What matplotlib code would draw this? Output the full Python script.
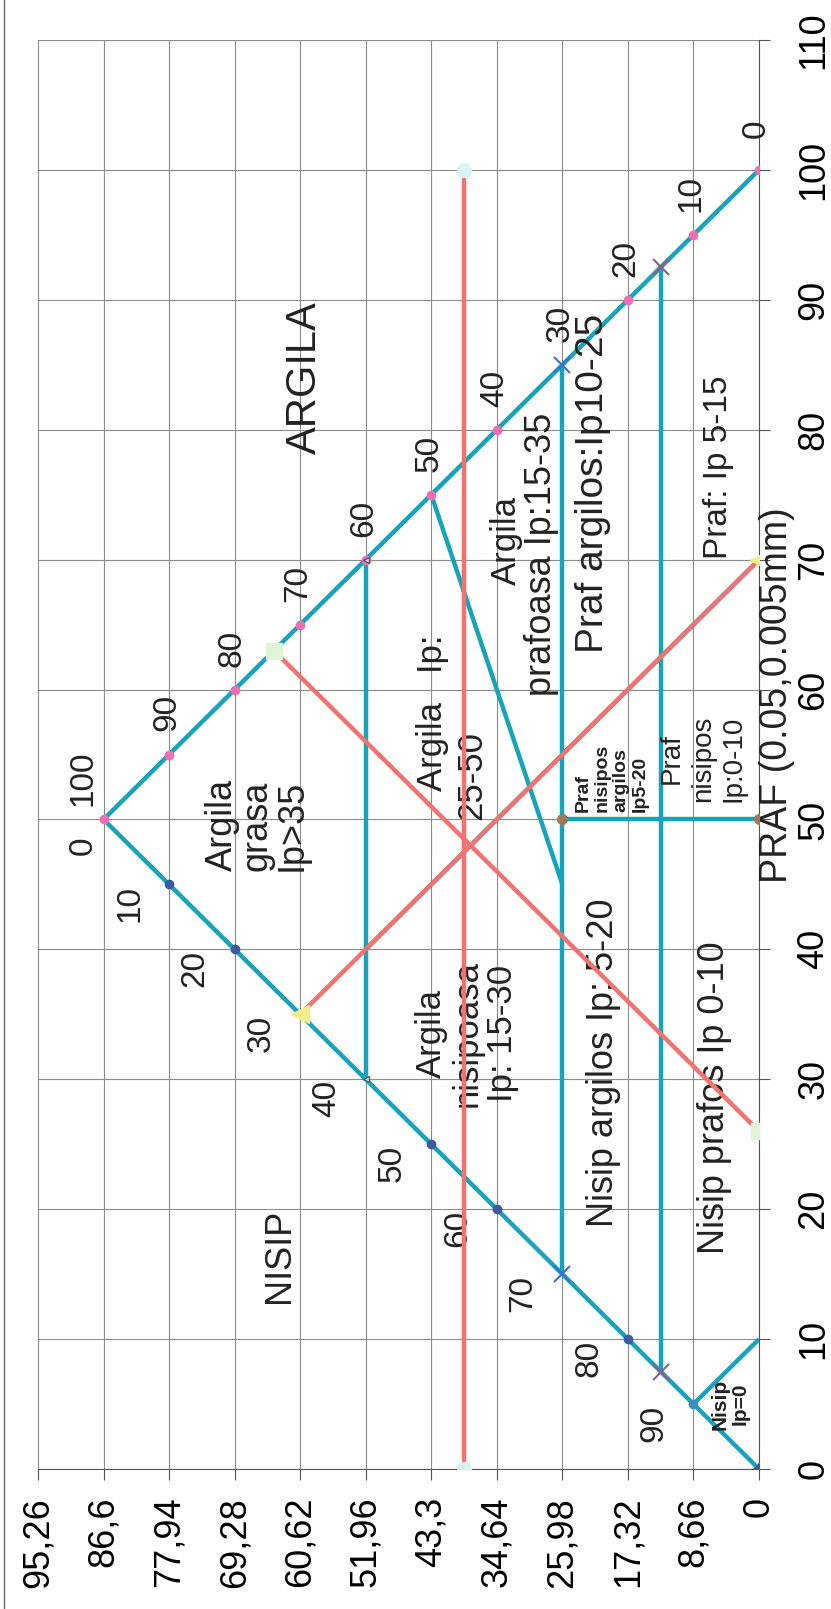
import matplotlib
matplotlib.use("Agg")
import matplotlib.pyplot as plt
from matplotlib.lines import Line2D

plt.rcParams["font.family"] = ["Liberation Sans", "DejaVu Sans"]

TEAL = "#17a3ba"
RED = "#f2726f"

# Values in the chart's own coordinates (x: 0..110, y: 0..95.26).
# The scan shows the chart turned 90 degrees: x runs upwards, y runs to the left.
x_ticks = [0, 10, 20, 30, 40, 50, 60, 70, 80, 90, 100, 110]
y_ticks = [0, 8.66, 17.32, 25.98, 34.64, 43.3, 51.96, 60.62, 69.28, 77.94, 86.6, 95.26]
y_tick_labels = ["0", "8,66", "17,32", "25,98", "34,64", "43,3", "51,96",
                 "60,62", "69,28", "77,94", "86,6", "95,26"]

# triangle sides
nisip_side_x = [0, 50]
nisip_side_y = [0, 86.6]
argila_side_x = [50, 100]
argila_side_y = [86.6, 0]

# teal class boundaries
lim60_x = [30, 70]
lim60_y = [51.96, 51.96]
lim30_x = [15, 85]
lim30_y = [25.98, 25.98]
lim15_x = [7.5, 92.5]
lim15_y = [12.99, 12.99]
lim_diag_x = [75, 45]
lim_diag_y = [43.3, 25.98]
lim_praf_x = [50, 50]
lim_praf_y = [25.98, 0]
lim_nisip_x = [5, 10]
lim_nisip_y = [8.66, 0]
lim_teal_x = [40, 70]
lim_teal_y = [51.96, 0]

# red guide lines
red_h_x = [0, 100]
red_h_y = [38.97, 38.97]
red_d1_x = [35, 70]
red_d1_y = [60.62, 0]
red_d2_x = [63, 26]
red_d2_y = [64.1, 0]

# markers
dark_x = [45, 40, 25, 20, 10]
dark_y = [77.94, 69.28, 43.3, 34.64, 17.32]
pink_x = [50, 55, 60, 65, 70, 75, 80, 90, 95, 100]
pink_y = [86.6, 77.94, 69.28, 60.62, 51.96, 43.3, 34.64, 17.32, 8.66, 0]
xblue_x = [15, 85]
xblue_y = [25.98, 25.98]
xpurple_x = [7.5, 92.5]
xpurple_y = [12.99, 12.99]
yellow_x = [35, 70]
yellow_y = [60.62, 0]
small_tri_x = [30, 70]
small_tri_y = [51.96, 51.96]
green_x = [63, 26]
green_y = [64.1, 0]
cyan_x = [0, 100]
cyan_y = [38.97, 38.97]
brown_x = [50, 50]
brown_y = [25.98, 0]

left_side_labels = [0, 10, 20, 30, 40, 50, 60, 70, 80, 90]
right_side_labels = [100, 90, 80, 70, 60, 50, 40, 30, 20, 10, 0]

fig = plt.figure(figsize=(8.31, 16.09), dpi=100)
ax = fig.add_axes([38 / 831, 1 - 1469 / 1609, (759 - 38) / 831, (1469 - 40) / 1609])


def draw(xs, ys, **kw):
    # turned chart: original y on the horizontal axis, original x on the vertical
    return ax.plot(ys, xs, **kw)


def label(x, y, s, size, **kw):
    kw.setdefault("ha", "center")
    kw.setdefault("va", "center")
    ax.text(y, x, s, fontsize=size, rotation=90, color="#222222", **kw)


ax.set_xlim(95.26, 0)
ax.set_ylim(0, 110)
ax.set_xticks(y_ticks)
ax.set_xticklabels(y_tick_labels, rotation=90, fontsize=26)
ax.yaxis.tick_right()
ax.set_yticks(x_ticks)
ax.set_yticklabels([str(v) for v in x_ticks], rotation=90, fontsize=26, va="center")
ax.tick_params(axis="x", direction="out", length=8, width=0.8, color="#555555", pad=12)
ax.tick_params(axis="y", direction="out", length=8, width=0.8, color="#555555", pad=19)
ax.grid(True, color="#8c8c8c", lw=0.8)
ax.set_axisbelow(True)
for s in ["top", "left"]:
    ax.spines[s].set_visible(False)
for s in ["bottom", "right"]:
    ax.spines[s].set_color("#555555")

# lines
lw = 3.2
for xs, ys in [(nisip_side_x, nisip_side_y), (argila_side_x, argila_side_y),
               (lim60_x, lim60_y), (lim30_x, lim30_y), (lim15_x, lim15_y),
               (lim_diag_x, lim_diag_y), (lim_praf_x, lim_praf_y),
               (lim_nisip_x, lim_nisip_y), (lim_teal_x, lim_teal_y)]:
    draw(xs, ys, color=TEAL, lw=lw, solid_capstyle="butt", zorder=3)
for xs, ys in [(red_h_x, red_h_y), (red_d1_x, red_d1_y), (red_d2_x, red_d2_y)]:
    draw(xs, ys, color=RED, lw=lw, solid_capstyle="butt", zorder=4)

# markers
draw(dark_x, dark_y, ls="none", marker="o", ms=6, color="#3a5ba0", zorder=5)
draw([0], [0], ls="none", marker="D", ms=6, color="#3a5ba0", zorder=5)
draw(pink_x, pink_y, ls="none", marker="o", ms=6, color="#f06eb4", zorder=5)
draw(xblue_x, xblue_y, ls="none", marker="x", ms=11, mew=1.5, color="#3f6fd0", zorder=6)
draw(xpurple_x, xpurple_y, ls="none", marker="x", ms=11, mew=1.5, color="#8b5e8b", zorder=6)
draw(yellow_x, yellow_y, ls="none", marker="<", ms=13, color="#f3f08c", zorder=6)
draw(small_tri_x, small_tri_y, ls="none", marker="<", ms=5, mfc="#f3f08c", mec="#3a5ba0", zorder=6)
draw(green_x, green_y, ls="none", marker="s", ms=12, color="#e0f5d5", zorder=6)
draw(cyan_x, cyan_y, ls="none", marker="o", ms=10, color="#d8f4f4", zorder=6)
draw(brown_x, brown_y, ls="none", marker="o", ms=7, color="#9b7b5c", zorder=6)
draw([5], [8.66], ls="none", marker="o", ms=6, color="#3a8fc0", zorder=6)

# side numbers
for k in left_side_labels:
    px, py = 50 - k / 2, 86.6 - 0.866 * k
    if k == 0:
        label(px - 2, py + 2.7, str(k), 24)
    else:
        label(px - 1.5, py + 5.2, str(k), 24)
for k in right_side_labels:
    px, py = 100 - k / 2, 0.866 * k
    if k == 100:
        label(px + 3.2, py + 2.7, str(k), 24)
    else:
        label(px + 3.2, py + 0.3, str(k), 24)

# region names
label(84.0, 60.0, "ARGILA", 30)
label(16.4, 63.3, "NISIP", 26)
label(46.0, 66.3, "Argila\ngrasa\nIp>35", 26, va="bottom", multialignment="left", linespacing=1.0)
label(58.2, 43.2, "Argila   Ip:", 25)
label(53.4, 38.0, "25-50", 25)
label(71.5, 33.4, "Argila", 25)
label(70.4, 28.8, "prafoasa Ip:15-35", 26)
label(75.9, 21.9, "Praf argilos:Ip10-25", 28)
label(77.1, 5.4, "Praf: Ip 5-15", 24)
label(33.5, 38.6, "Argila\nnisipoasa\nIp: 15-30", 25, multialignment="center", linespacing=1.1)
label(31.3, 20.6, "Nisip argilos Ip: 5-20", 26)
label(28.6, 5.9, "Nisip prafos Ip 0-10", 26)
label(59.6, -2.4, "PRAF (0.05,0.005mm)", 27, clip_on=False)
label(5.0, 3.8, "Nisip\nIp=0", 15, fontweight="bold", multialignment="center", linespacing=1.1)
label(50.6, 19.5, "Praf\nnisipos\nargilos\nIp5-20", 14, va="bottom", fontweight="bold",
      multialignment="left", linespacing=1.15)
label(54.7, 7.4, "Praf\nnisipos\nIp:0-10", 20, multialignment="center", linespacing=1.25)

# frame edge of the scanned chart area
fig.add_artist(Line2D([4 / 831, 4 / 831], [0, 1], transform=fig.transFigure,
                      color="#666666", lw=1))

fig.savefig("out.png", dpi=100)
